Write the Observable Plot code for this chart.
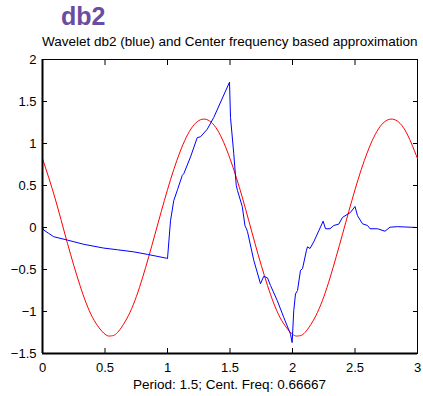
<!DOCTYPE html>
<html><head><meta charset="utf-8">
<script src="https://cdn.jsdelivr.net/npm/d3@7"></script>
<script src="https://cdn.jsdelivr.net/npm/@observablehq/plot@0.6"></script>
<style>
body{margin:0;background:#fff;}
#wrap{position:relative;width:423px;height:396px;font-family:"Liberation Sans",Arial,sans-serif;color:#000;}
#title{position:absolute;left:61px;top:4px;font-size:25px;line-height:1;font-weight:bold;color:#6a4ca0;white-space:nowrap;}
#subtitle{position:absolute;left:42px;top:34.5px;font-size:13.5px;line-height:1;white-space:nowrap;}
#xlabel{position:absolute;left:0;width:459px;top:378px;font-size:13.5px;line-height:1;text-align:center;white-space:nowrap;}
#chart{position:absolute;left:0;top:45px;}
</style></head><body>
<div id="wrap">
  <div id="chart"></div>
  <div id="title">db2</div>
  <div id="subtitle">Wavelet db2 (blue) and Center frequency based approximation</div>
  <div id="xlabel">Period: 1.5; Cent. Freq: 0.66667</div>
</div>
<script>
// Tick values and domains
const xDomain = [0, 3];
const yDomain = [-1.5, 2];
const xTicks = [0, 0.5, 1, 1.5, 2, 2.5, 3];
const yTicks = [-1.5, -1, -0.5, 0, 0.5, 1, 1.5, 2];

// Wavelet db2 (blue)
const blueX = [0, 0.01, 0.05, 0.09, 0.2, 0.33, 0.49, 0.6, 0.73, 0.84, 0.99, 1.0,
  1.024, 1.05, 1.08, 1.118, 1.13, 1.184, 1.238, 1.264, 1.318, 1.37, 1.496,
  1.504, 1.53, 1.55, 1.56, 1.598, 1.62, 1.63, 1.64, 1.69, 1.744, 1.77, 1.8, 1.824,
  1.878, 1.93, 1.984, 1.997, 2.01, 2.024, 2.04, 2.064, 2.08, 2.112, 2.12, 2.14,
  2.17, 2.21, 2.245, 2.264, 2.3, 2.33, 2.37, 2.4, 2.464, 2.5, 2.52, 2.56, 2.6,
  2.62, 2.68, 2.74, 2.78, 2.84, 3.0];
const blueY = [0, -0.03, -0.07, -0.11, -0.15, -0.2, -0.245, -0.265, -0.29, -0.32, -0.365, -0.37,
  0.08, 0.32, 0.45, 0.62, 0.64, 0.84, 1.07, 1.08, 1.17, 1.31, 1.73,
  1.31, 0.88, 0.5, 0.44, 0.25, 0.02, -0.01, -0.05, -0.39, -0.67, -0.58, -0.6, -0.69,
  -0.87, -1.07, -1.27, -1.37, -0.99, -0.79, -0.75, -0.51, -0.49, -0.27, -0.23, -0.25,
  -0.17, -0.04, 0.075, -0.015, -0.015, 0.024, 0.04, 0.12, 0.18, 0.25, 0.14, 0.044, 0.024,
  -0.015, -0.015, -0.044, 0.004, 0.01, 0.0];

// Center frequency approximation (red)
const redX = [0, 0.1, 0.2, 0.3, 0.4, 0.5, 0.55, 0.6, 0.7, 0.8, 0.9, 1.0, 1.1, 1.2, 1.3,
  1.4, 1.5, 1.6, 1.7, 1.8, 1.9, 2.0, 2.05, 2.1, 2.2, 2.3, 2.4, 2.5, 2.6, 2.7, 2.8, 2.9, 3.0];
const redY = [0.82, 0.35, -0.19, -0.69, -1.07, -1.27, -1.29, -1.25, -1.01, -0.60, -0.08, 0.45, 0.90, 1.20, 1.29,
  1.16, 0.82, 0.35, -0.19, -0.69, -1.07, -1.27, -1.29, -1.25, -1.01, -0.60, -0.08, 0.45, 0.90, 1.20, 1.29, 1.16, 0.82];

const blue = blueX.map((x, i) => ({x, y: blueY[i]}));
const red = redX.map((x, i) => ({x, y: redY[i]}));
const fmt = d3.format("~g");
const none = () => "";

const chart = Plot.plot({
  width: 423,
  height: 351,
  marginTop: 14,
  marginBottom: 43,
  marginLeft: 42,
  marginRight: 6,
  style: {fontFamily: "'Liberation Sans', Arial, sans-serif", fontSize: "13px", background: "white", color: "black"},
  x: {domain: xDomain, label: null},
  y: {domain: yDomain, label: null},
  marks: [
    Plot.frame({stroke: "black", strokeWidth: 1}),
    Plot.line(red, {x: "x", y: "y", stroke: "red", strokeWidth: 1, curve: "natural"}),
    Plot.line(blue, {x: "x", y: "y", stroke: "blue", strokeWidth: 1}),
    Plot.ruleX([xDomain[0]], {stroke: "black", strokeWidth: 2}),
    Plot.ruleY([yDomain[0]], {stroke: "black", strokeWidth: 2}),
    Plot.axisX(xTicks, {anchor: "bottom", tickSize: -5, tickPadding: 14, tickFormat: fmt, label: null, fontSize: 13}),
    Plot.axisX(xTicks, {anchor: "top", tickSize: -5, tickFormat: none, label: null}),
    Plot.axisY(yTicks, {anchor: "left", tickSize: -5, tickPadding: 11, tickFormat: fmt, label: null, fontSize: 13}),
    Plot.axisY(yTicks, {anchor: "right", tickSize: -5, tickFormat: none, label: null})
  ]
});
document.getElementById("chart").appendChild(chart);
</script>
</body></html>
